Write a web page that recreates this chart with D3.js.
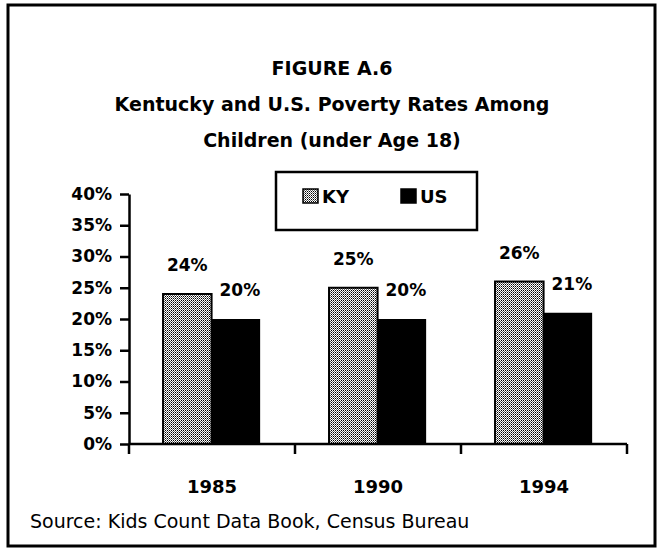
<!DOCTYPE html>
<html>
<head>
<meta charset="utf-8">
<script src="https://cdn.jsdelivr.net/npm/d3@7"></script>
<style>
  body { margin: 0; background: #fff; }
  svg text { font-family: "Comic Sans MS", "DejaVu Sans", sans-serif; fill: #000; }
</style>
</head>
<body>
<svg width="660" height="549"></svg>
<script>
// data
const years = ['1985', '1990', '1994'];
const series = ['KY', 'US'];
const kyValues = [0.24, 0.25, 0.26];
const usValues = [0.20, 0.20, 0.21];
const yTicks = [0, 0.05, 0.10, 0.15, 0.20, 0.25, 0.30, 0.35, 0.40];
const titleLines = ['FIGURE A.6', 'Kentucky and U.S. Poverty Rates Among', 'Children (under Age 18)'];

const rows = years.map((y, i) => ({ year: y, KY: kyValues[i], US: usValues[i] }));

const svg = d3.select('svg');
const FONT = '"Comic Sans MS", "DejaVu Sans", sans-serif';

// checker pattern for the KY bars
const defs = svg.append('defs');
const pat = defs.append('pattern')
  .attr('id', 'dots')
  .attr('width', 2).attr('height', 2)
  .attr('patternUnits', 'userSpaceOnUse');
pat.append('rect').attr('width', 2).attr('height', 2).attr('fill', '#fff');
pat.append('rect').attr('width', 1).attr('height', 1).attr('fill', '#000');
pat.append('rect').attr('x', 1).attr('y', 1).attr('width', 1).attr('height', 1).attr('fill', '#666');

// outer frame
svg.append('rect')
  .attr('x', 8).attr('y', 5)
  .attr('width', 647).attr('height', 541)
  .attr('fill', 'none').attr('stroke', '#000').attr('stroke-width', 3);

// titles
svg.selectAll('.title')
  .data(titleLines)
  .enter()
  .append('text')
  .attr('class', 'title')
  .attr('x', 332)
  .attr('y', (d, i) => 75 + i * 36)
  .attr('text-anchor', 'middle')
  .attr('font-size', 19)
  .attr('font-weight', 'bold')
  .text(d => d);

// scales
const x0 = d3.scaleBand().domain(years).range([129, 627]).padding(0);
const x1 = d3.scaleBand().domain(series)
  .range([x0.bandwidth() * 0.205, x0.bandwidth() * 0.79]);
const y = d3.scaleLinear().domain([0, 0.40]).range([444, 194]);
const fillOf = { KY: 'url(#dots)', US: '#000' };

// bars
const groups = svg.selectAll('.grp')
  .data(rows)
  .enter()
  .append('g')
  .attr('class', 'grp')
  .attr('transform', d => `translate(${x0(d.year)},0)`);

groups.selectAll('rect')
  .data(d => series.map(k => ({ key: k, value: d[k] })))
  .enter()
  .append('rect')
  .attr('x', d => x1(d.key))
  .attr('y', d => y(d.value))
  .attr('width', x1.bandwidth())
  .attr('height', d => y(0) - y(d.value))
  .attr('fill', d => fillOf[d.key])
  .attr('stroke', '#000')
  .attr('stroke-width', d => d.key === 'KY' ? 2 : 0);

// value labels
groups.selectAll('.val')
  .data(d => series.map(k => ({ key: k, value: d[k] })))
  .enter()
  .append('text')
  .attr('class', 'val')
  .attr('x', d => x1(d.key) + x1.bandwidth() / 2 + (d.key === 'US' ? 4 : 0))
  .attr('y', d => y(d.value) - 23)
  .attr('text-anchor', 'middle')
  .attr('font-size', 17)
  .attr('font-weight', 'bold')
  .text(d => d3.format('.0%')(d.value));

// y axis
const yAxis = svg.append('g')
  .attr('transform', 'translate(129,0)')
  .call(d3.axisLeft(y).tickValues(yTicks).tickFormat(d3.format('.0%')).tickSize(9).tickSizeOuter(0));
yAxis.select('.domain').attr('stroke-width', 2.5);
yAxis.selectAll('.tick line').attr('stroke-width', 2.5);
yAxis.selectAll('.tick text')
  .attr('x', -17)
  .attr('font-size', 17)
  .attr('font-weight', 'bold')
  .style('font-family', FONT);

// x axis with ticks at band edges
const xAxis = svg.append('g').attr('transform', 'translate(0,444)');
xAxis.append('line')
  .attr('x1', 129).attr('x2', 627)
  .attr('stroke', '#000').attr('stroke-width', 2.5);
xAxis.selectAll('.xt')
  .data(years.map(v => x0(v)).concat([x0.range()[1]]))
  .enter()
  .append('line')
  .attr('class', 'xt')
  .attr('x1', d => d).attr('x2', d => d)
  .attr('y1', 0).attr('y2', 10)
  .attr('stroke', '#000').attr('stroke-width', 2.5);
xAxis.selectAll('.xl')
  .data(years)
  .enter()
  .append('text')
  .attr('class', 'xl')
  .attr('x', d => x0(d) + x0.bandwidth() / 2)
  .attr('y', 49)
  .attr('text-anchor', 'middle')
  .attr('font-size', 18)
  .attr('font-weight', 'bold')
  .text(d => d);

// legend
const legend = svg.append('g');
legend.append('rect')
  .attr('x', 276).attr('y', 172)
  .attr('width', 201).attr('height', 58)
  .attr('fill', '#fff').attr('stroke', '#000').attr('stroke-width', 2.5);
const legX = d3.scalePoint().domain(series).range([303, 401]);
const items = legend.selectAll('.li')
  .data(series)
  .enter()
  .append('g')
  .attr('class', 'li')
  .attr('transform', d => `translate(${legX(d)},189)`);
items.append('rect')
  .attr('width', 15).attr('height', 14)
  .attr('fill', d => fillOf[d])
  .attr('stroke', '#000').attr('stroke-width', 1.5);
items.append('text')
  .attr('x', 19).attr('y', 14)
  .attr('font-size', 18)
  .attr('font-weight', 'bold')
  .text(d => d);

// source
svg.append('text')
  .attr('x', 30).attr('y', 528)
  .attr('font-size', 19)
  .text('Source:  Kids Count Data Book, Census Bureau');
</script>
</body>
</html>
